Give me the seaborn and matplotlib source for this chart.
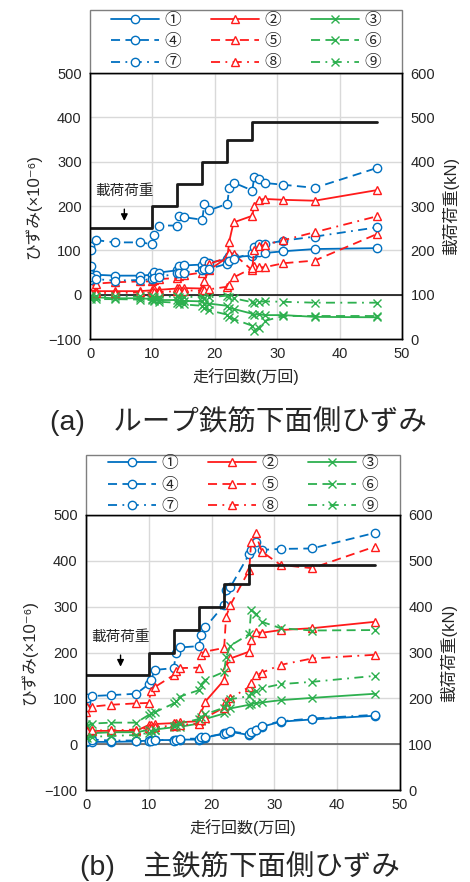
import numpy as np
import pandas as pd
import matplotlib
matplotlib.use("Agg")
import matplotlib.pyplot as plt
from matplotlib.patches import Rectangle
import seaborn as sns

# ---------------- data ----------------
cycles = [0, 0.2, 1, 4, 8, 10, 10.3, 11, 14, 14.3, 15, 18, 18.3, 19, 22, 22.3, 23, 26, 26.3, 27, 28, 31, 36, 46]

load_x = [0, 10, 14, 18, 22, 26, 46]
load_kN = [250, 300, 350, 400, 450, 490, 490]

series_labels = ["①", "②", "③", "④", "⑤", "⑥", "⑦", "⑧", "⑨"]

# (a) loop rebar, bottom side strain
a_s1 = [47, 65, 45, 43, 43, 45, 52, 50, 55, 65, 66, 68, 75, 72, 80, 88, 85, 88, 95, 97, 94, 98, 103, 105]
a_s2 = [12, 8, 8, 8, 8, 10, 12, 11, 14, 15, 15, 14, 30, 55, 84, 120, 163, 178, 200, 214, 216, 214, 212, 236]
a_s3 = [-3, -5, -6, -8, -8, -10, -12, -12, -12, -15, -14, -15, -20, -20, -25, -30, -32, -43, -45, -44, -46, -46, -50, -51]
a_s4 = [109, 100, 123, 118, 118, 114, 135, 156, 156, 178, 175, 169, 205, 190, 205, 241, 253, 235, 265, 260, 252, 248, 241, 286]
a_s5 = [15, 20, 25, 28, 30, 30, 33, 35, 38, 42, 44, 50, 60, 69, 84, 95, 92, 55, 65, 62, 62, 71, 77, 137]
a_s6 = [-8, -10, -10, -10, -11, -12, -15, -16, -18, -20, -22, -25, -30, -35, -45, -51, -55, -70, -81, -75, -59, -48, -48, -48]
a_s7 = [34, 40, 35, 32, 33, 35, 38, 40, 48, 50, 50, 55, 58, 58, 70, 77, 80, 95, 107, 114, 114, 122, 131, 152]
a_s8 = [5, 3, 4, 4, 5, 5, 6, 6, 8, 8, 9, 10, 10, 12, 18, 22, 39, 60, 100, 110, 112, 123, 141, 177]
a_s9 = [-2, -4, -3, -4, -4, -4, -6, -5, -4, -5, -5, -5, -8, -6, -2, -5, -8, -17, -18, -16, -15, -16, -18, -18]

# (b) main rebar, bottom side strain
b_s1 = [5, 6, 5, 5, 6, 8, 9, 9, 9, 10, 10, 10, 12, 14, 24, 25, 27, 20, 24, 31, 38, 49, 54, 62]
b_s2 = [31, 28, 29, 29, 29, 42, 42, 44, 46, 47, 48, 50, 67, 93, 140, 169, 187, 202, 227, 245, 243, 249, 253, 267]
b_s3 = [24, 22, 24, 26, 26, 31, 31, 32, 37, 38, 38, 45, 50, 55, 67, 72, 78, 86, 88, 89, 91, 96, 101, 110]
b_s4 = [93, 100, 105, 107, 110, 131, 140, 162, 166, 198, 211, 214, 238, 255, 304, 336, 343, 415, 424, 442, 424, 426, 427, 461]
b_s5 = [71, 82, 82, 86, 89, 90, 115, 125, 151, 160, 166, 167, 195, 202, 210, 278, 304, 380, 442, 460, 420, 391, 384, 431]
b_s6 = [45, 40, 45, 47, 47, 64, 68, 70, 89, 95, 104, 118, 130, 140, 158, 190, 215, 240, 293, 285, 267, 253, 248, 249]
b_s7 = [18, 8, 10, 8, 8, 6, 8, 10, 8, 10, 12, 12, 15, 16, 22, 25, 28, 22, 26, 32, 40, 50, 56, 64]
b_s8 = [30, 28, 30, 30, 32, 35, 36, 38, 40, 42, 42, 45, 52, 58, 80, 95, 100, 125, 134, 150, 156, 173, 187, 195]
b_s9 = [15, 14, 16, 18, 20, 25, 28, 30, 40, 42, 45, 55, 60, 65, 80, 90, 98, 105, 111, 115, 122, 131, 136, 149]

panel_a = [a_s1, a_s2, a_s3, a_s4, a_s5, a_s6, a_s7, a_s8, a_s9]
panel_b = [b_s1, b_s2, b_s3, b_s4, b_s5, b_s6, b_s7, b_s8, b_s9]

captions = ["(a)　ループ鉄筋下面側ひずみ", "(b)　主鉄筋下面側ひずみ"]

# ---------------- style ----------------
sns.set_theme(style="white")
plt.rcParams["font.family"] = ["Liberation Sans", "Noto Sans CJK JP", "DejaVu Sans"]
plt.rcParams["axes.unicode_minus"] = True

BLUE, RED, GREEN = "#0070C0", "#FF1A1A", "#2DB04F"
colors = [BLUE, RED, GREEN] * 3
markers = ["o", "^", "x"] * 3
styles = ["-"] * 3 + [(0, (5, 3))] * 3 + [(0, (5, 3, 1, 3))] * 3

fig = plt.figure(figsize=(4.70, 8.82), dpi=100)
ax_a = fig.add_axes([0.1915, 0.6156, 0.664, 0.3016])
ax_b = fig.add_axes([0.1830, 0.1043, 0.668, 0.3118])


def draw_panel(ax, data, leg_h, zero_color, text_pos, arrow_tip):
    handles = []
    for i, vals in enumerate(data):
        df = pd.DataFrame({"x": cycles, "y": vals})
        sns.lineplot(data=df, x="x", y="y", ax=ax, color=colors[i], marker=markers[i],
                     linestyle=styles[i], lw=1.3, ms=6, estimator=None, sort=False,
                     legend=False, zorder=3)
        ln = ax.lines[-1]
        ln.set_markerfacecolor("white" if markers[i] != "x" else colors[i])
        ln.set_markeredgecolor(colors[i])
        ln.set_markeredgewidth(1.0)
        ln.set_label(series_labels[i])
        handles.append(ln)
    ax.axhline(0, color=zero_color, lw=1.1, zorder=2)
    ax.set_xlim(0, 50)
    ax.set_ylim(-100, 500)
    ax.set_xticks(range(0, 51, 10))
    ax.set_yticks(range(-100, 501, 100))
    ax.grid(True, color="#d9d9d9", lw=1)
    ax.set_axisbelow(True)
    ax.tick_params(length=0, labelsize=10.5, pad=6)
    ax.set_xlabel("走行回数(万回)", fontsize=11.5, labelpad=5)
    ax.set_ylabel("ひずみ(×10⁻⁶)", fontsize=12, labelpad=5)
    for s in ax.spines.values():
        s.set_color("black")
        s.set_linewidth(1.0)

    ax2 = ax.twinx()
    sns.lineplot(x=load_x, y=load_kN, ax=ax2, color="#1a1a1a", lw=2.0,
                 drawstyle="steps-post", estimator=None, sort=False, legend=False)
    ax2.set_ylim(0, 600)
    ax2.set_yticks(range(0, 601, 100))
    ax2.tick_params(length=0, labelsize=10.5, pad=6)
    ax2.set_ylabel("載荷荷重(kN)", fontsize=12, labelpad=5)
    ax2.grid(False)
    for s in ax2.spines.values():
        s.set_color("black")
        s.set_linewidth(1.0)

    ax.annotate("載荷荷重", xy=arrow_tip, xytext=text_pos, ha="center", va="center",
                fontsize=10.5, zorder=5,
                arrowprops=dict(arrowstyle="-|>", color="black", lw=1.0,
                                mutation_scale=10, shrinkA=6))

    # legend frame spanning the axes width
    ax2.add_patch(Rectangle((0, 1.0), 1, leg_h, transform=ax2.transAxes, clip_on=False,
                            facecolor="white", edgecolor="#7f7f7f", lw=1.0, zorder=1))
    order = [0, 3, 6, 1, 4, 7, 2, 5, 8]
    leg = ax2.legend([handles[k] for k in order], [series_labels[k] for k in order],
                     ncol=3, loc="center", bbox_to_anchor=(0.5, 1.0 + leg_h / 2),
                     frameon=False, fontsize=12, columnspacing=1.8,
                     handlelength=2.9, labelspacing=0.38, handletextpad=0.3,
                     borderpad=0.1)
    return ax2


draw_panel(ax_a, panel_a, 0.237, "black", (5.5, 235), (5.5, 160))
draw_panel(ax_b, panel_b, 0.218, "#555555", (5.5, 235), (5.5, 163))

fig.text(0.507, 1 - 421 / 882, captions[0], ha="center", va="center", fontsize=20.5)
fig.text(0.510, 1 - 866 / 882, captions[1], ha="center", va="center", fontsize=20.5)

fig.savefig("out.png", dpi=100)
